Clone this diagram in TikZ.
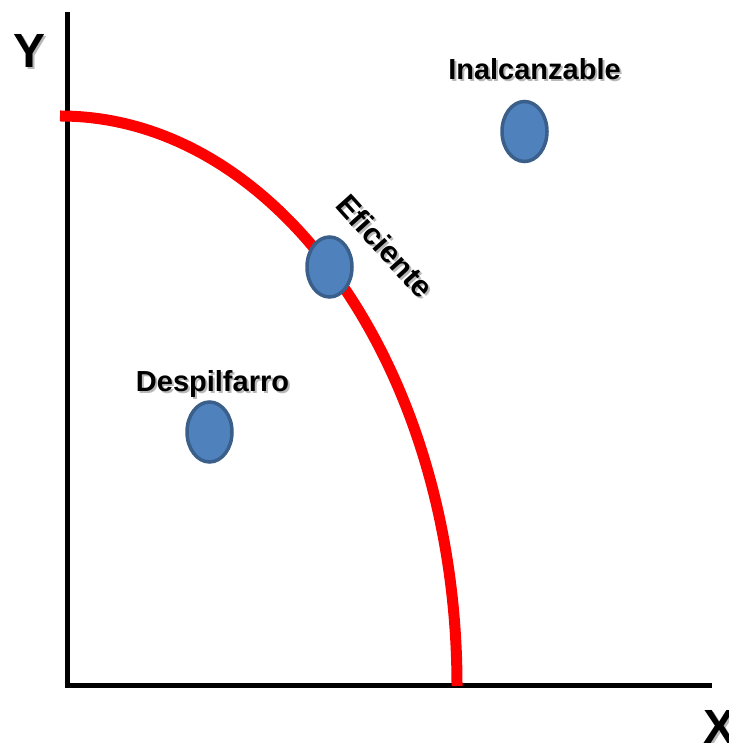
\documentclass[tikz,border=0pt]{standalone}
\usepackage{fontspec}
\setmainfont{Liberation Sans}
\usetikzlibrary{shapes.geometric}
\definecolor{puntoazul}{HTML}{4F81BD}
\definecolor{bordeazul}{HTML}{3A5F8B}

\begin{document}
\begin{tikzpicture}[x=1pt, y=1pt,
    punto/.style = {ellipse, draw=bordeazul, line width=3.5pt,
      fill=puntoazul, minimum width=45pt, minimum height=60pt, inner sep=0pt},
    etiqueta/.style = {font=\bfseries\fontsize{29}{34}\selectfont, inner sep=0pt},
    eje/.style = {font=\bfseries\fontsize{48}{56}\selectfont, inner sep=0pt},
    sombra/.style = {text=black!28}]
  \useasboundingbox (0,0) rectangle (728,743);
  % ejes
  \coordinate (origen) at (67,57);
  \coordinate (ytope) at (67,731);
  \coordinate (xfin) at (712,57);
  \draw[line width=5pt] (ytope) -- (origen) -- (xfin);
  \foreach \n/\x/\y/\t in {ejey/13/675/Y, ejex/703/0/X} {
    \node[eje, sombra, anchor=base west] (\n-s) at (\x+2,\y-2) {\t};
    \node[eje, anchor=base west] (\n) at (\x,\y) {\t};
  }
  % frontera de posibilidades
  \coordinate (ftope) at (60,627);
  \draw[red, line width=11pt] (ftope) arc[start angle=90, end angle=0,
    x radius=397, y radius=570] coordinate (fbase);
  % puntos
  \node[punto] (pdesp) at (209.5,311) {};
  \node[punto] (pefic) at (329.5,476) {};
  \node[punto] (pinal) at (524.5,611.5) {};
  % etiquetas
  \foreach \n/\x/\y/\t in {desp/212.5/351/Despilfarro,
    inal/534.5/663/Inalcanzable} {
    \node[etiqueta, sombra, anchor=base] (\n-s) at (\x+2,\y-2) {\t};
    \node[etiqueta, anchor=base] (\n) at (\x,\y) {\t};
  }
  \node[etiqueta, sombra, font=\bfseries\fontsize{30.5}{36}\selectfont,
    rotate=-48] (efic-s) at (387,495) {Eficiente};
  \node[etiqueta, font=\bfseries\fontsize{30.5}{36}\selectfont,
    rotate=-48] (efic) at (385,497) {Eficiente};
\end{tikzpicture}
\end{document}
